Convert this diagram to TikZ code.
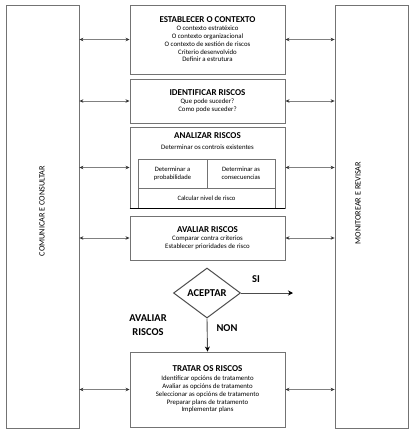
\documentclass[tikz,border=0pt]{standalone}
\usepackage{fontspec}
\setmainfont{Carlito}
\usetikzlibrary{shapes.geometric,arrows.meta}
\newcommand\boxtitle{\fontsize{9}{10.5}\selectfont\bfseries}
\newcommand\flowlabel{\fontsize{10.5}{12}\selectfont\bfseries}
\tikzset{
  box/.style={draw=black!55, line width=0.9pt, minimum width=155, inner sep=0pt, align=center, font=\fontsize{6.8}{7.8}\selectfont},
  sidebox/.style={draw=black!55, line width=0.8pt, minimum width=73, minimum height=423, inner sep=0pt},
  sidetext/.style={rotate=90, font=\fontsize{8.2}{9}\selectfont},
  cell/.style={draw=black!55, line width=0.6pt, inner sep=0pt, align=center, font=\fontsize{6.6}{7.8}\selectfont},
  link/.style={draw=black!50, line width=0.9pt, {Stealth[black!80,length=4pt,width=3.5pt]}-{Stealth[black!80,length=4pt,width=3.5pt]}},
  flow/.style={draw=black!70, line width=0.9pt, -{Stealth[black,length=5pt,width=5pt]}},
  ttl/.style={font=\boxtitle}
}
\begin{document}
\begin{tikzpicture}[x=1pt,y=-1pt]
\useasboundingbox (0,0) rectangle (417,437);
% side boxes
\node[sidebox] (com) at (42.5,216.5) {};
\node[sidetext] at (42,211) {COMUNICAR E CONSULTAR};
\node[sidebox] (mon) at (371.5,216.5) {};
\node[sidetext] at (358,203) {MONITOREAR E REVISAR};
% process boxes
\node[box, minimum height=69] (ctx) at (207.5,39.5) {{\boxtitle ESTABLECER O CONTEXTO}\\O contexto estratéxico\\O contexto organizacional\\O contexto de xestión de riscos\\Criterio desenvolvido\\Definir a estrutura};
\node[box, minimum height=44] (ident) at (207.5,101) {{\boxtitle IDENTIFICAR RISCOS}\\Que pode suceder?\\Como pode suceder?};
\node[box, minimum height=81] (anal) at (207.5,167.5) {};
\node[ttl] at (207.5,135.5) {ANALIZAR RISCOS};
\node[font=\fontsize{6.8}{8}\selectfont] at (207.5,147.5) {Determinar os controis existentes};
\node[cell, minimum width=69, minimum height=29] (prob) at (172.5,173.5) {Determinar a\\probabilidade};
\node[cell, minimum width=68, minimum height=29] (cons) at (241,173.5) {Determinar as\\consecuencias};
\node[cell, minimum width=137, minimum height=20] (calc) at (206.5,198) {Calcular nivel de risco};
\draw[line width=1.4pt] (anal.south west) -- (anal.south east);
\node[box, minimum height=44] (aval) at (207.5,238) {{\boxtitle AVALIAR RISCOS}\\Comparar contra criterios\\Establecer prioridades de risco};
\node[diamond, draw=black!70, line width=1pt, minimum width=67, minimum height=50, inner sep=0pt, font=\flowlabel] (acept) at (207,293) {ACEPTAR};
\node[box, minimum height=75] (trat) at (207.5,389.5) {{\boxtitle TRATAR OS RISCOS}\\[1pt]Identificar opcións de tratamento\\Avaliar as opcións de tratamento\\Seleccionar as opcións de tratamento\\Preparar plans de tratamento\\Implementar plans};
% labels
\node[font=\flowlabel] at (256,279) {SI};
\node[font=\flowlabel] at (227,328) {NON};
\node[font=\flowlabel, align=center] at (148,325) {AVALIAR\\[2pt]RISCOS};
% connectors
\coordinate (si) at (293,293);
\draw[flow] (acept.east) -- (si);
\draw[flow] (acept.south) -- (trat.north);
\foreach \b in {ctx,ident,anal,aval,trat} {
  \draw[link] (com.east |- \b.west) -- (\b.west);
  \draw[link] (\b.east) -- (mon.west |- \b.east);
}
\end{tikzpicture}
\end{document}
